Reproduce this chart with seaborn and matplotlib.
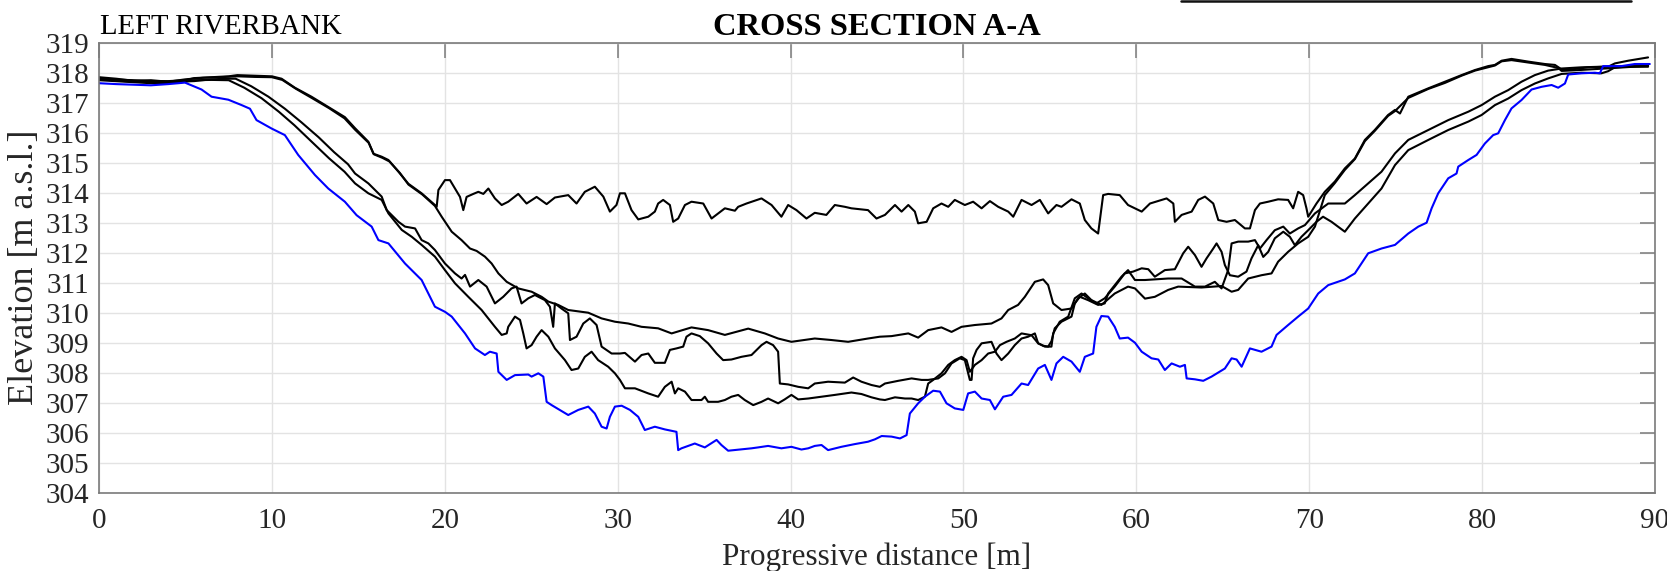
import numpy as np
import pandas as pd
import matplotlib
matplotlib.use("Agg")
import matplotlib.pyplot as plt
from matplotlib.lines import Line2D
import seaborn as sns

# Cross section A-A: survey profiles (progressive distance [m], elevation [m a.s.l.])
A_x = [0, 1, 2, 3, 4, 5, 5.5, 6.5, 7.5, 8, 9, 10, 10.56, 11.33, 12.29, 13.26, 14.22, 14.81, 15.58, 15.87, 16.35, 16.74,
       17.32, 17.89, 18.66, 19.43, 19.53, 19.63, 20.01, 20.3, 20.59, 20.88, 21.07, 21.26, 21.65, 21.94, 22.23, 22.52,
       22.9, 23.29, 23.67, 24.25, 24.73, 25.31, 25.89, 26.37, 27.14, 27.62, 28.1, 28.68, 29.17, 29.55, 29.93, 30.13,
       30.42, 30.8, 31.19, 31.77, 32.15, 32.34, 32.63, 33.02, 33.21, 33.5, 33.89, 34.27, 34.95, 35.43, 35.81, 36.2,
       36.78, 36.97, 37.45, 38.32, 38.9, 39.47, 39.86, 40.34, 40.92, 41.4, 42.07, 42.56, 43.14, 43.52, 44.48, 44.97,
       45.46, 46.04, 46.42, 46.81, 47.19, 47.38, 47.87, 48.25, 48.73, 49.12, 49.5, 50.08, 50.56, 51.05, 51.53, 52.01,
       52.59, 52.88, 53.36, 53.94, 54.42, 54.9, 55.38, 55.67, 56.25, 56.73, 57.02, 57.4, 57.79, 58.08, 58.37, 59.04,
       59.52, 59.92, 60.31, 60.79, 61.75, 62.14, 62.23, 62.62, 63.2, 63.58, 63.97, 64.45, 64.74, 65.22, 65.7, 66.28,
       66.57, 66.86, 67.15, 67.63, 68.2, 68.78, 69.07, 69.36, 69.65, 69.84, 69.94, 70.42, 70.9, 71.48, 72.06, 72.64,
       73.22, 73.79, 74.56, 74.96, 75.25, 75.73, 76.89, 77.85, 78.81, 79.59, 80.35, 80.74, 81.13, 81.7, 82.67, 83.63,
       84.21, 84.6, 85.17, 86.14, 87.29, 87.68, 88.45, 89.6]
A_z = [317.80, 317.77, 317.75, 317.72, 317.72, 317.75, 317.82, 317.85, 317.88, 317.92, 317.90, 317.88, 317.80, 317.50,
       317.20, 316.86, 316.52, 316.15, 315.70, 315.30, 315.20, 315.09, 314.70, 314.30, 313.98, 313.59, 313.53, 314.09,
       314.42, 314.42, 314.14, 313.86, 313.42, 313.86, 313.96, 314.03, 313.96, 314.14, 313.81, 313.59, 313.70, 313.96,
       313.64, 313.86, 313.62, 313.84, 313.92, 313.64, 314.03, 314.20, 313.87, 313.37, 313.59, 313.98, 313.98, 313.42,
       313.11, 313.20, 313.37, 313.64, 313.76, 313.59, 313.03, 313.14, 313.59, 313.70, 313.64, 313.14, 313.31, 313.48,
       313.40, 313.53, 313.64, 313.81, 313.59, 313.20, 313.59, 313.42, 313.14, 313.33, 313.26, 313.59, 313.53, 313.48,
       313.42, 313.14, 313.26, 313.59, 313.37, 313.59, 313.37, 312.98, 313.03, 313.48, 313.64, 313.53, 313.76, 313.59,
       313.70, 313.48, 313.72, 313.53, 313.37, 313.20, 313.76, 313.59, 313.76, 313.31, 313.59, 313.53, 313.78, 313.64,
       313.09, 312.81, 312.64, 313.92, 313.96, 313.92, 313.59, 313.48, 313.37, 313.64, 313.81, 313.64, 313.03, 313.26,
       313.37, 313.76, 313.87, 313.64, 313.09, 313.03, 313.09, 312.81, 312.81, 313.42, 313.64, 313.70, 313.78, 313.76,
       313.48, 314.03, 313.92, 313.48, 313.20, 313.64, 314.03, 314.37, 314.81, 315.14, 315.76, 316.09, 316.59, 316.76,
       316.64, 317.20, 317.48, 317.70, 317.92, 318.09, 318.22, 318.26, 318.40, 318.46, 318.37, 318.29, 318.26, 318.11,
       318.11, 318.18, 318.20, 318.31, 318.40, 318.51]

B_x = [0, 1, 2, 3, 4, 5, 6, 7, 8, 9, 10, 10.6, 11.4, 12.3, 13.3, 14.2, 14.81, 15.6, 15.9, 16.4, 16.8, 17.4, 17.9, 18.7,
       19.43, 19.82, 20.4, 20.97, 21.46, 21.84, 22.32, 22.71, 23.1, 23.58, 24.25, 25.02, 25.6, 25.99, 26.56, 27.14,
       28.3, 29.07, 29.84, 30.61, 31.38, 32.34, 33.12, 34.27, 35.23, 36.2, 37.55, 38.51, 39.28, 40.05, 41.4, 42.36,
       43.33, 44.48, 45.16, 45.84, 46.81, 47.38, 47.96, 48.73, 49.31, 49.89, 50.66, 51.62, 52.2, 52.59, 53.16, 53.55,
       54.13, 54.61, 54.9, 55.19, 55.67, 56.25, 56.63, 57.02, 57.4, 57.98, 58.75, 59.52, 59.92, 60.5, 61.07, 61.84,
       62.42, 63.77, 64.93, 65.51, 65.89, 66.47, 67.24, 67.82, 68.2, 68.78, 69.36, 69.94, 70.33, 70.9, 71.48, 72.06,
       72.64, 73.22, 73.79, 74.56, 74.96, 75.73, 76.89, 77.85, 78.81, 79.59, 80.74, 81.13, 81.7, 82.67, 83.63, 84.4,
       84.6, 85.36, 86.52, 87.68, 89.6]
B_z = [317.85, 317.80, 317.73, 317.75, 317.70, 317.78, 317.83, 317.85, 317.88, 317.86, 317.85, 317.76, 317.46, 317.16,
       316.82, 316.48, 316.10, 315.66, 315.28, 315.16, 315.04, 314.66, 314.27, 313.94, 313.56, 313.20, 312.70, 312.42,
       312.14, 312.06, 311.87, 311.64, 311.31, 311.03, 310.81, 310.70, 310.53, 310.37, 310.26, 310.09, 310.00, 309.81,
       309.70, 309.64, 309.53, 309.48, 309.31, 309.51, 309.42, 309.26, 309.47, 309.31, 309.14, 309.03, 309.14, 309.09,
       309.03, 309.14, 309.20, 309.22, 309.31, 309.17, 309.42, 309.51, 309.36, 309.53, 309.59, 309.64, 309.81, 310.09,
       310.26, 310.53, 311.03, 311.11, 310.92, 310.31, 310.09, 310.14, 310.48, 310.64, 310.42, 310.26, 310.64, 310.87,
       310.81, 310.47, 310.53, 310.76, 310.87, 310.84, 310.89, 310.70, 310.76, 311.14, 311.25, 311.31, 311.70, 312.03,
       312.31, 312.53, 312.87, 313.92, 314.32, 314.76, 315.12, 315.72, 316.06, 316.56, 316.72, 317.16, 317.46, 317.66,
       317.90, 318.07, 318.24, 318.38, 318.42, 318.34, 318.26, 318.16, 318.06, 318.08, 318.12, 318.16, 318.23]

C_x = [0, 1.5, 3, 4.5, 5.5, 6.5, 7.5, 7.9, 8.8, 9.8, 10.75, 11.7, 12.7, 13.6, 14.4, 14.81, 15.58, 16.35, 16.64, 17.32,
       17.7, 18.28, 18.66, 19.05, 19.43, 20.01, 20.59, 20.97, 21.17, 21.46, 21.94, 22.42, 22.71, 22.9, 23.38, 23.86,
       24.15, 24.44, 24.83, 25.21, 25.79, 26.08, 26.27, 26.37, 26.75, 27.14, 27.24, 27.62, 28.01, 28.39, 28.78, 29.07,
       29.65, 30.13, 30.42, 31.0, 31.38, 31.77, 32.15, 32.73, 33.02, 33.4, 33.79, 33.98, 34.27, 34.75, 35.23, 35.72,
       36.1, 36.58, 37.16, 37.74, 38.32, 38.61, 38.99, 39.28, 39.38, 39.86, 40.44, 41.02, 41.4, 42.17, 43.14, 43.62,
       44.1, 44.68, 45.16, 45.46, 46.23, 47.0, 47.58, 47.96, 48.54, 48.93, 49.31, 49.79, 50.08, 50.37, 50.47, 50.56,
       50.76, 51.05, 51.62, 51.91, 52.2, 52.59, 52.97, 53.36, 53.74, 54.13, 54.32, 54.71, 55.09, 55.19, 55.57, 56.06,
       56.44, 56.83, 57.21, 57.69, 58.17, 58.75, 59.33, 59.81, 60.31, 60.69, 61.07, 61.65, 62.23, 62.71, 63.0, 63.39,
       63.77, 64.06, 64.45, 64.64, 64.93, 65.12, 65.41, 65.89, 66.37, 66.66, 67.05, 67.34, 67.63, 68.01, 68.5, 68.88,
       69.17, 69.55, 69.94, 70.42, 70.8, 71.29, 72.06, 72.64, 73.41, 74.18, 74.96, 75.73, 76.89, 78.04, 79.2, 79.97,
       80.74, 81.51, 82.28, 83.05, 83.82, 84.6, 85.75, 86.9, 87.29, 87.68, 88.45, 89.6]
C_z = [317.78, 317.72, 317.68, 317.70, 317.72, 317.78, 317.80, 317.80, 317.55, 317.20, 316.80, 316.35, 315.85, 315.35,
       314.95, 314.64, 314.31, 313.87, 313.42, 313.03, 312.87, 312.81, 312.42, 312.31, 312.09, 311.64, 311.31, 311.14,
       311.26, 310.87, 311.09, 310.87, 310.53, 310.31, 310.53, 310.81, 310.87, 310.31, 310.48, 310.59, 310.42, 310.20,
       309.53, 310.31, 310.14, 309.98, 309.09, 309.20, 309.64, 309.81, 309.59, 308.87, 308.64, 308.64, 308.66, 308.37,
       308.59, 308.64, 308.33, 308.33, 308.76, 308.81, 308.87, 309.20, 309.31, 309.22, 308.98, 308.64, 308.42, 308.44,
       308.53, 308.59, 308.92, 309.03, 308.92, 308.70, 307.64, 307.61, 307.53, 307.48, 307.64, 307.70, 307.67, 307.84,
       307.70, 307.59, 307.53, 307.64, 307.73, 307.81, 307.76, 307.76, 307.81, 307.98, 308.31, 308.48, 308.42, 307.76,
       307.76, 308.48, 308.76, 308.98, 309.03, 308.64, 308.42, 308.64, 308.92, 309.14, 309.20, 309.31, 308.98, 308.87,
       308.87, 309.31, 309.70, 309.87, 310.48, 310.64, 310.48, 310.31, 310.48, 310.87, 311.31, 311.37, 311.48, 311.45,
       311.20, 311.42, 311.45, 311.98, 312.20, 311.92, 311.53, 311.81, 312.14, 312.31, 312.03, 311.59, 311.25, 311.20,
       311.37, 311.81, 312.25, 311.86, 312.03, 312.48, 312.70, 312.53, 312.25, 312.53, 312.75, 313.03, 313.20, 313.03,
       312.70, 313.14, 313.64, 314.14, 314.92, 315.42, 315.76, 316.09, 316.37, 316.59, 316.92, 317.14, 317.42, 317.64,
       317.81, 317.96, 318.00, 317.98, 318.05, 318.18, 318.20, 318.20]

D_x = [0, 1.5, 3, 4.5, 5.5, 6.5, 7.5, 8.4, 9.4, 10.4, 11.3, 12.3, 13.3, 14.2, 14.81, 15.58, 16.35, 16.74, 17.51, 18.09,
       18.66, 19.43, 20.01, 20.59, 21.36, 22.13, 22.9, 23.29, 23.58, 23.67, 24.06, 24.35, 24.54, 24.73, 25.02, 25.31,
       25.6, 25.99, 26.37, 26.95, 27.33, 27.72, 28.1, 28.49, 28.87, 29.45, 29.84, 30.13, 30.42, 31.0, 31.77, 32.34,
       32.73, 33.12, 33.31, 33.5, 33.89, 34.27, 34.85, 35.04, 35.23, 35.81, 36.2, 36.58, 36.97, 37.35, 37.84, 38.32,
       38.7, 39.28, 39.66, 40.05, 40.44, 41.02, 41.79, 42.56, 43.14, 43.52, 44.1, 44.68, 45.16, 45.46, 46.04, 46.62,
       47.0, 47.38, 47.77, 47.96, 48.25, 48.73, 49.12, 49.5, 49.89, 50.18, 50.37, 50.66, 51.05, 51.43, 51.82, 52.11,
       52.49, 52.97, 53.36, 53.94, 54.32, 54.61, 54.9, 55.09, 55.28, 55.67, 56.25, 56.44, 56.73, 57.21, 57.79, 58.17,
       58.37, 59.14, 59.52, 59.92, 60.5, 61.07, 61.84, 62.62, 63.39, 63.97, 64.54, 64.93, 65.31, 65.51, 65.89, 66.47,
       66.86, 67.15, 67.53, 68.01, 68.5, 68.88, 69.36, 69.75, 70.33, 71.1, 72.06, 72.64, 73.41, 74.18, 74.96, 75.73,
       76.89, 78.04, 79.2, 79.97, 80.74, 81.51, 82.28, 83.05, 83.82, 84.6, 85.75, 86.9, 88.45, 89.6]
D_z = [317.75, 317.70, 317.65, 317.66, 317.75, 317.76, 317.75, 317.50, 317.15, 316.70, 316.25, 315.70, 315.15, 314.70,
       314.31, 313.98, 313.76, 313.31, 312.76, 312.53, 312.26, 311.87, 311.42, 310.98, 310.53, 310.09, 309.53, 309.26,
       309.31, 309.53, 309.87, 309.76, 309.31, 308.81, 308.92, 309.20, 309.42, 309.20, 308.81, 308.42, 308.09, 308.14,
       308.53, 308.70, 308.42, 308.20, 307.98, 307.76, 307.48, 307.48, 307.31, 307.20, 307.53, 307.70, 307.31, 307.48,
       307.37, 307.09, 307.09, 307.20, 307.03, 307.03, 307.09, 307.20, 307.26, 307.09, 306.92, 307.03, 307.14, 306.98,
       307.11, 307.26, 307.11, 307.14, 307.20, 307.26, 307.31, 307.34, 307.29, 307.18, 307.11, 307.09, 307.18, 307.14,
       307.14, 307.09, 307.20, 307.64, 307.76, 307.98, 308.26, 308.42, 308.53, 308.42, 308.03, 308.26, 308.42, 308.64,
       308.70, 308.92, 309.03, 309.14, 309.31, 309.25, 308.98, 308.90, 308.87, 309.05, 309.48, 309.70, 309.87, 310.31,
       310.53, 310.42, 310.26, 310.31, 310.64, 311.20, 311.42, 311.09, 311.09, 311.11, 311.14, 311.14, 310.87, 310.87,
       311.03, 310.81, 311.42, 312.31, 312.37, 312.37, 312.42, 312.14, 312.42, 312.75, 312.87, 312.64, 312.81, 312.92,
       313.31, 313.64, 313.64, 313.92, 314.31, 314.70, 315.31, 315.76, 316.09, 316.42, 316.70, 316.92, 317.20, 317.42,
       317.70, 317.92, 318.07, 318.14, 318.18, 318.20, 318.22, 318.22]

# blue profile (lowest bed)
E_x = [0, 1, 2, 3, 4, 4.97, 5.93, 6.51, 7.48, 8.25, 8.73, 9.11, 9.98, 10.75, 11.52, 12.49, 13.26, 14.22, 14.9, 15.77,
       16.16, 16.74, 17.7, 18.66, 19.43, 20.01, 20.4, 21.17, 21.75, 22.32, 22.61, 23.0, 23.1, 23.58, 24.06, 24.83,
       25.02, 25.41, 25.7, 25.89, 26.18, 27.14, 27.72, 28.3, 28.68, 29.07, 29.36, 29.55, 29.84, 30.23, 30.71, 31.19,
       31.57, 32.15, 32.73, 33.4, 33.5, 33.69, 34.46, 35.04, 35.72, 36.0, 36.39, 37.74, 38.12, 38.7, 39.47, 40.05,
       40.63, 41.02, 41.4, 41.79, 42.17, 42.94, 43.71, 44.48, 44.88, 45.27, 45.84, 46.33, 46.71, 46.9, 47.38, 47.77,
       48.25, 48.64, 49.02, 49.5, 49.99, 50.27, 50.66, 51.05, 51.53, 51.82, 52.3, 52.78, 53.36, 53.74, 54.32, 54.71,
       55.09, 55.38, 55.77, 56.25, 56.73, 57.02, 57.5, 57.69, 57.98, 58.37, 58.75, 59.04, 59.52, 59.92, 60.31, 60.88,
       61.27, 61.65, 62.04, 62.52, 62.81, 62.91, 63.39, 63.87, 64.35, 65.12, 65.51, 65.8, 66.09, 66.57, 67.24, 67.82,
       68.11, 68.78, 69.36, 69.94, 70.52, 71.1, 72.06, 72.64, 73.41, 74.18, 74.96, 75.73, 76.31, 76.79, 77.08, 77.46,
       78.04, 78.52, 78.62, 79.2, 79.68, 80.16, 80.64, 80.93, 81.32, 81.7, 82.28, 82.86, 83.44, 84.02, 84.4, 84.79,
       84.98, 85.75, 86.52, 86.81, 87.0, 88.06, 88.83, 89.7]
E_z = [317.65, 317.62, 317.60, 317.58, 317.62, 317.67, 317.44, 317.20, 317.10, 316.92, 316.80, 316.42, 316.14, 315.92,
       315.26, 314.59, 314.14, 313.70, 313.25, 312.87, 312.42, 312.31, 311.64, 311.09, 310.20, 310.03, 309.87, 309.31,
       308.81, 308.59, 308.70, 308.64, 308.03, 307.76, 307.92, 307.94, 307.87, 307.98, 307.87, 307.03, 306.92, 306.59,
       306.76, 306.87, 306.64, 306.20, 306.14, 306.53, 306.87, 306.90, 306.76, 306.53, 306.09, 306.20, 306.11, 306.03,
       305.42, 305.48, 305.64, 305.51, 305.76, 305.59, 305.40, 305.48, 305.51, 305.56, 305.48, 305.53, 305.44, 305.48,
       305.56, 305.59, 305.42, 305.53, 305.62, 305.70, 305.78, 305.89, 305.87, 305.81, 305.92, 306.64, 306.98, 307.20,
       307.40, 307.37, 306.98, 306.81, 306.76, 307.31, 307.37, 307.14, 307.09, 306.78, 307.20, 307.26, 307.64, 307.59,
       308.14, 308.26, 307.76, 308.31, 308.53, 308.37, 308.03, 308.53, 308.64, 309.53, 309.89, 309.87, 309.53, 309.14,
       309.17, 309.00, 308.70, 308.48, 308.44, 308.09, 308.31, 308.20, 308.26, 307.81, 307.78, 307.73, 307.87, 308.14,
       308.48, 308.44, 308.20, 308.81, 308.70, 308.87, 309.26, 309.59, 309.87, 310.14, 310.64, 310.92, 311.11, 311.31,
       311.98, 312.14, 312.26, 312.64, 312.87, 313.00, 313.48, 313.98, 314.48, 314.64, 314.87, 315.09, 315.26, 315.64,
       315.92, 315.98, 316.42, 316.81, 317.09, 317.44, 317.53, 317.59, 317.50, 317.64, 317.94, 317.98, 318.00, 317.98,
       318.22, 318.22, 318.29, 318.29]

profiles = {"A": (A_x, A_z), "B": (B_x, B_z), "C": (C_x, C_z), "D": (D_x, D_z), "E": (E_x, E_z)}
colors = {"A": "black", "B": "black", "C": "black", "D": "black", "E": "#0000ff"}

frames = []
for name, (xs, zs) in profiles.items():
    if len(xs) != len(zs):
        raise ValueError(f"{name}: {len(xs)} x vs {len(zs)} z")
    frames.append(pd.DataFrame({"dist": xs, "elev": zs, "profile": name}))
df = pd.concat(frames, ignore_index=True)

sns.set_theme(style="white")
plt.rcParams["font.family"] = ["Liberation Serif", "DejaVu Serif"]

fig = plt.figure(figsize=(16.67, 5.71), dpi=100)
ax = fig.add_axes([0.0594, 0.1371, 0.9334, 0.7881])

sns.lineplot(data=df, x="dist", y="elev", hue="profile", palette=colors,
             estimator=None, sort=False, legend=False, linewidth=1.5, ax=ax)
for ln in ax.get_lines():
    ln.set_solid_joinstyle("round")

ax.set_xlim(0, 90)
ax.set_ylim(304, 319)
ax.set_xticks(np.arange(0, 91, 10))
ax.set_yticks(np.arange(304, 320, 1))
ax.grid(True, color="#e3e3e3", linewidth=1.0)
ax.set_axisbelow(True)
for s in ax.spines.values():
    s.set_color("#7a7a7a")
    s.set_linewidth(1.2)
ax.tick_params(axis="both", direction="in", length=11, width=1.1, color="#7a7a7a",
               top=True, right=True, labelsize=21, labelcolor="#262626")
ax.tick_params(axis="x", pad=11)
ax.tick_params(axis="y", pad=7)

ax.set_xlabel("Progressive distance [m]", fontsize=22.5, color="#262626", labelpad=6)
ax.set_ylabel("Elevation [m a.s.l.]", fontsize=26, color="#262626", labelpad=3)

fig.text(0.5263, 1 - 35 / 571, "CROSS SECTION A-A", ha="center", va="baseline",
         fontsize=23.4, fontweight="bold", color="black")
fig.text(100 / 1667, 1 - 34 / 571, "LEFT RIVERBANK", ha="left", va="baseline",
         fontsize=20.6, color="black")

# edge of a legend box cut off at the top of the figure
fig.add_artist(Line2D([1181 / 1667, 1631 / 1667], [1 - 1.2 / 571, 1 - 1.2 / 571],
                      transform=fig.transFigure, color="#111111", linewidth=1.8))

fig.savefig("out.png", dpi=100)
